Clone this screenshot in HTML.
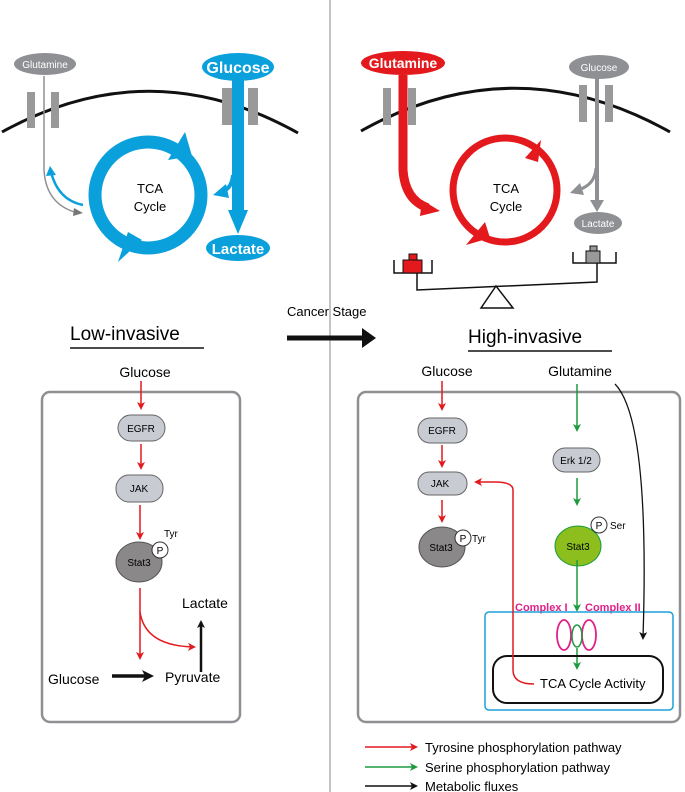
<!DOCTYPE html>
<html><head><style>body{margin:0;background:#fff}svg{display:block;font-family:"Liberation Sans",sans-serif}</style></head><body>
<svg width="685" height="792" viewBox="0 0 685 792">
<defs>
<marker id="r" markerWidth="8" markerHeight="8" refX="6" refY="4" orient="auto" markerUnits="userSpaceOnUse"><path d="M0,0 L8,4 L0,8 L2,4z" fill="#e3191d"/></marker>
<marker id="g" markerWidth="8" markerHeight="8" refX="6" refY="4" orient="auto" markerUnits="userSpaceOnUse"><path d="M0,0 L8,4 L0,8 L2,4z" fill="#1c9a3e"/></marker>
<marker id="k" markerWidth="8" markerHeight="8" refX="6" refY="4" orient="auto" markerUnits="userSpaceOnUse"><path d="M0,0 L8,4 L0,8 L2,4z" fill="#111"/></marker>
<marker id="kb" markerWidth="12" markerHeight="12" refX="8" refY="6" orient="auto" markerUnits="userSpaceOnUse"><path d="M0,0 L12,6 L0,12 L3,6z" fill="#111"/></marker>
</defs>
<line x1="330" y1="0" x2="330" y2="792" stroke="#888" stroke-width="1"/>
<!-- left top -->
<path d="M2,132 Q150,50 298,133" fill="none" stroke="#111" stroke-width="3"/>
<rect x="27" y="92" width="8" height="36" fill="#999"/><rect x="51" y="92" width="8" height="36" fill="#999"/>
<rect x="222" y="88" width="10" height="37" fill="#999"/><rect x="248" y="88" width="10" height="37" fill="#999"/>
<ellipse cx="45" cy="64" rx="31" ry="11" fill="#8f9093"/><text x="45" y="68" font-size="10" fill="#fff" text-anchor="middle">Glutamine</text>
<path d="M44,76 L44,170 Q46,205 78,213" fill="none" stroke="#8f9093" stroke-width="1.5"/>
<path d="M74,208 L83,213 L73,216z" fill="#777"/>
<path d="M83,205 Q58,200 51,172" fill="none" stroke="#0aa0dc" stroke-width="2.5"/><path d="M46,176 L50,166 L56,175z" fill="#0aa0dc"/>
<circle cx="148" cy="195" r="53" fill="none" stroke="#0aa0dc" stroke-width="13"/>
<path d="M168,160 L185,132 L192,156z" fill="#0aa0dc"/><path d="M128,232 L118,262 L142,240z" fill="#0aa0dc"/>
<text x="150" y="193" font-size="13" text-anchor="middle">TCA</text><text x="150" y="211" font-size="13" text-anchor="middle">Cycle</text>
<rect x="232" y="75" width="12" height="140" fill="#0aa0dc"/><path d="M228,210 L248,210 L238,234z" fill="#0aa0dc"/>
<path d="M233,175 Q232,188 222,192" fill="none" stroke="#0aa0dc" stroke-width="4"/><path d="M226,184 L213,195 L229,198z" fill="#0aa0dc"/>
<ellipse cx="238" cy="67" rx="36" ry="14" fill="#0aa0dc"/><text x="238" y="73" font-size="16" font-weight="bold" fill="#fff" text-anchor="middle">Glucose</text>
<ellipse cx="238" cy="248" rx="32" ry="13" fill="#0aa0dc"/><text x="238" y="254" font-size="15" font-weight="bold" fill="#fff" text-anchor="middle">Lactate</text>
<!-- right top -->
<path d="M361,131 Q515,45 670,132" fill="none" stroke="#111" stroke-width="3"/>
<rect x="383" y="88" width="8" height="37" fill="#999"/><rect x="408" y="88" width="8" height="37" fill="#999"/>
<rect x="579" y="85" width="8" height="37" fill="#999"/><rect x="605" y="85" width="8" height="37" fill="#999"/>
<path d="M403,75 L403,170 Q405,200 428,208" fill="none" stroke="#e3191d" stroke-width="9"/><path d="M422,200 L440,211 L420,216z" fill="#e3191d"/>
<ellipse cx="403" cy="63" rx="42" ry="12" fill="#e3191d"/><text x="403" y="68" font-size="14" font-weight="bold" fill="#fff" text-anchor="middle">Glutamine</text>
<circle cx="505" cy="190" r="52" fill="none" stroke="#e3191d" stroke-width="7"/>
<path d="M525,158 L541,140 L538,162z" fill="#e3191d"/><path d="M485,222 L466,245 L490,238z" fill="#e3191d"/>
<text x="506" y="193" font-size="13" text-anchor="middle">TCA</text><text x="506" y="211" font-size="13" text-anchor="middle">Cycle</text>
<line x1="597" y1="78" x2="597" y2="202" stroke="#8f9093" stroke-width="4"/><path d="M590,200 L604,200 L597,212z" fill="#8f9093"/>
<path d="M596,168 Q595,185 578,190" fill="none" stroke="#8f9093" stroke-width="3"/><path d="M580,183 L570,193 L584,195z" fill="#8f9093"/>
<ellipse cx="599" cy="67" rx="30" ry="12" fill="#8f9093"/><text x="599" y="71" font-size="10" fill="#fff" text-anchor="middle">Glucose</text>
<ellipse cx="598" cy="223" rx="24" ry="11" fill="#8f9093"/><text x="598" y="227" font-size="10" fill="#fff" text-anchor="middle">Lactate</text>
<path d="M394,260 L394,273 L432,273 L432,260" fill="none" stroke="#111" stroke-width="1.5"/>
<rect x="409" y="254" width="8" height="6" fill="#e3191d" stroke="#111"/><rect x="403" y="260" width="19" height="13" fill="#e3191d" stroke="#111"/>
<path d="M573,252 L573,263 L616,263 L616,252" fill="none" stroke="#111" stroke-width="1.5"/>
<rect x="590" y="246" width="7" height="5" fill="#999" stroke="#111"/><rect x="586" y="251" width="14" height="12" fill="#999" stroke="#111"/>
<path d="M417,273 L417,290 L597,282 L597,263" fill="none" stroke="#111" stroke-width="1.5"/>
<path d="M496,286 L481,308 L513,308z" fill="#fff" stroke="#111" stroke-width="1.5"/>
<!-- stage -->
<text x="287" y="316" font-size="13">Cancer Stage</text>
<line x1="287" y1="338" x2="365" y2="338" stroke="#111" stroke-width="5"/><path d="M362,328 L376,338 L362,348z" fill="#111"/>
<text x="70" y="340" font-size="19">Low-invasive</text><line x1="70" y1="348" x2="204" y2="348" stroke="#111" stroke-width="1.5"/>
<text x="468" y="343" font-size="19">High-invasive</text><line x1="468" y1="351" x2="612" y2="351" stroke="#111" stroke-width="1.5"/>
<!-- left box -->
<rect x="42" y="392" width="198" height="330" rx="8" fill="none" stroke="#8f9093" stroke-width="2.5"/>
<text x="145" y="377" font-size="14" text-anchor="middle">Glucose</text>
<line x1="141" y1="381" x2="141" y2="408" stroke="#e3191d" stroke-width="1.5" marker-end="url(#r)"/>
<rect x="118" y="415" width="47" height="26" rx="13" fill="#c8cbd2" stroke="#666"/><text x="141" y="432" font-size="10" text-anchor="middle">EGFR</text>
<line x1="141" y1="444" x2="141" y2="468" stroke="#e3191d" stroke-width="1.5" marker-end="url(#r)"/>
<rect x="116" y="475" width="47" height="27" rx="13" fill="#c8cbd2" stroke="#666"/><text x="139" y="492" font-size="10" text-anchor="middle">JAK</text>
<line x1="140" y1="505" x2="140" y2="538" stroke="#e3191d" stroke-width="1.5" marker-end="url(#r)"/>
<ellipse cx="139" cy="562" rx="23" ry="20" fill="#8a8888" stroke="#555"/><text x="139" y="566" font-size="10" text-anchor="middle">Stat3</text>
<circle cx="160" cy="550" r="8" fill="#fff" stroke="#333"/><text x="160" y="554" font-size="10" text-anchor="middle">P</text>
<text x="164" y="537" font-size="10">Tyr</text>
<path d="M140,588 L140,658" fill="none" stroke="#e3191d" stroke-width="1.5" marker-end="url(#r)"/>
<path d="M140,612 Q145,646 194,647" fill="none" stroke="#e3191d" stroke-width="1.5" marker-end="url(#r)"/>
<text x="182" y="608" font-size="14">Lactate</text>
<line x1="201" y1="672" x2="201" y2="622" stroke="#111" stroke-width="2.5" marker-end="url(#k)"/>
<text x="48" y="684" font-size="14">Glucose</text>
<line x1="112" y1="676" x2="150" y2="676" stroke="#111" stroke-width="3.5" marker-end="url(#kb)"/>
<text x="165" y="682" font-size="14">Pyruvate</text>
<!-- right box -->
<rect x="358" y="392" width="322" height="330" rx="8" fill="none" stroke="#8f9093" stroke-width="2.5"/>
<text x="447" y="376" font-size="14" text-anchor="middle">Glucose</text><text x="580" y="376" font-size="14" text-anchor="middle">Glutamine</text>
<line x1="442" y1="381" x2="442" y2="409" stroke="#e3191d" stroke-width="1.5" marker-end="url(#r)"/>
<rect x="418" y="418" width="49" height="25" rx="12" fill="#c8cbd2" stroke="#666"/><text x="442" y="434" font-size="10" text-anchor="middle">EGFR</text>
<line x1="442" y1="445" x2="442" y2="466" stroke="#e3191d" stroke-width="1.5" marker-end="url(#r)"/>
<rect x="418" y="472" width="49" height="23" rx="11" fill="#c8cbd2" stroke="#666"/><text x="440" y="487" font-size="10" text-anchor="middle">JAK</text>
<line x1="442" y1="500" x2="442" y2="521" stroke="#e3191d" stroke-width="1.5" marker-end="url(#r)"/>
<ellipse cx="442" cy="547" rx="23" ry="20" fill="#8a8888" stroke="#555"/><text x="441" y="551" font-size="10" text-anchor="middle">Stat3</text>
<circle cx="463" cy="538" r="8" fill="#fff" stroke="#333"/><text x="463" y="542" font-size="10" text-anchor="middle">P</text>
<text x="472" y="542" font-size="10">Tyr</text>
<line x1="577" y1="384" x2="577" y2="430" stroke="#1c9a3e" stroke-width="1.5" marker-end="url(#g)"/>
<rect x="553" y="448" width="47" height="24" rx="12" fill="#c8cbd2" stroke="#666"/><text x="576" y="464" font-size="10" text-anchor="middle">Erk 1/2</text>
<line x1="577" y1="478" x2="577" y2="504" stroke="#1c9a3e" stroke-width="1.5" marker-end="url(#g)"/>
<ellipse cx="578" cy="546" rx="23" ry="20" fill="#8cbf1e" stroke="#1c9a3e"/><text x="578" y="550" font-size="10" text-anchor="middle">Stat3</text>
<circle cx="599" cy="525" r="8" fill="#fff" stroke="#333"/><text x="599" y="529" font-size="10" text-anchor="middle">P</text>
<text x="610" y="529" font-size="10">Ser</text>
<line x1="577" y1="560" x2="577" y2="610" stroke="#1c9a3e" stroke-width="1.5" marker-end="url(#g)"/>
<text x="515" y="611" font-size="11" font-weight="bold" fill="#e0218a">Complex I</text>
<text x="585" y="611" font-size="11" font-weight="bold" fill="#e0218a">Complex II</text>
<rect x="485" y="612" width="188" height="98" rx="4" fill="none" stroke="#1ba0d8" stroke-width="1.5"/>
<ellipse cx="564" cy="635" rx="7" ry="15" fill="none" stroke="#e0218a" stroke-width="1.8"/>
<ellipse cx="589" cy="635" rx="7" ry="15" fill="none" stroke="#e0218a" stroke-width="1.8"/>
<ellipse cx="577" cy="636" rx="5" ry="11" fill="none" stroke="#1c9a3e" stroke-width="1.5"/>
<line x1="577" y1="648" x2="577" y2="668" stroke="#1c9a3e" stroke-width="1.5" marker-end="url(#g)"/>
<rect x="493" y="656" width="170" height="47" rx="14" fill="none" stroke="#111" stroke-width="2"/>
<text x="540" y="688" font-size="13">TCA Cycle Activity</text>
<path d="M534,684 Q513,684 513,670 L513,490 Q513,482 495,482 L476,482" fill="none" stroke="#e3191d" stroke-width="1.5" marker-end="url(#r)"/>
<path d="M615,384 Q650,420 643,638" fill="none" stroke="#111" stroke-width="1.3" marker-end="url(#k)"/>
<!-- legend -->
<line x1="365" y1="747" x2="416" y2="747" stroke="#e3191d" stroke-width="1.5" marker-end="url(#r)"/><text x="425" y="752" font-size="13">Tyrosine phosphorylation pathway</text>
<line x1="365" y1="767" x2="416" y2="767" stroke="#1c9a3e" stroke-width="1.5" marker-end="url(#g)"/><text x="425" y="772" font-size="13">Serine phosphorylation pathway</text>
<line x1="365" y1="786" x2="416" y2="786" stroke="#111" stroke-width="1.5" marker-end="url(#k)"/><text x="425" y="791" font-size="13">Metabolic fluxes</text>
</svg>
</body></html>
